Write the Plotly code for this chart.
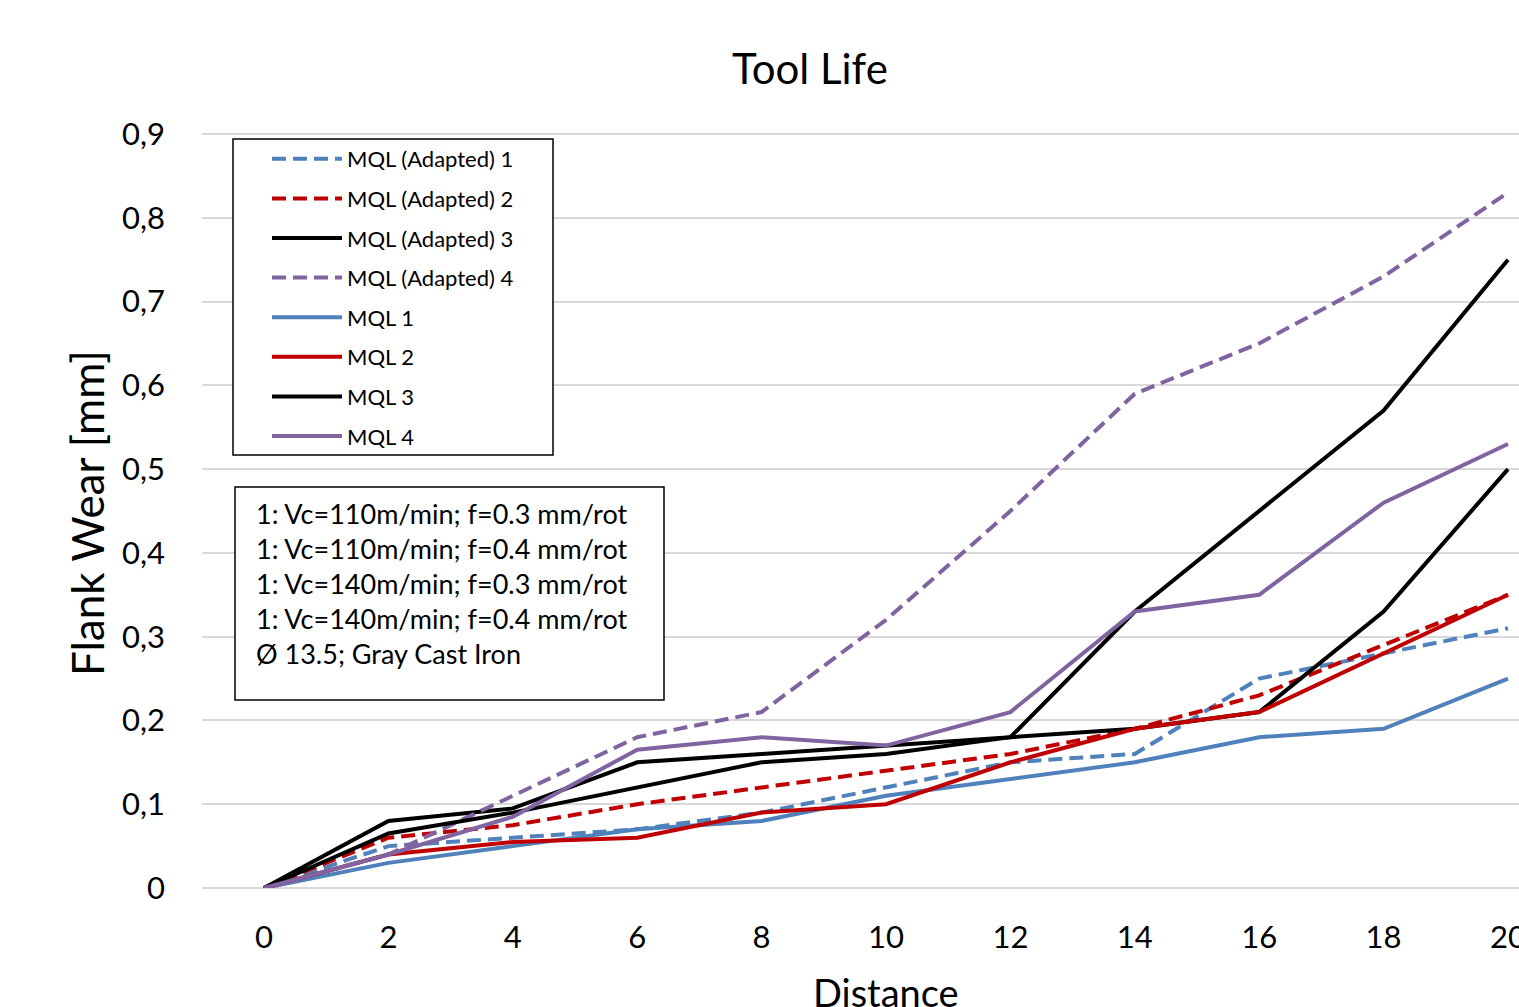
import plotly.graph_objects as go

# ---- data ----
distance = [0, 2, 4, 6, 8, 10, 12, 14, 16, 18, 20]

mql_adapted_1 = [0, 0.05, 0.06, 0.07, 0.09, 0.12, 0.15, 0.16, 0.25, 0.28, 0.31]
mql_adapted_2 = [0, 0.06, 0.075, 0.10, 0.12, 0.14, 0.16, 0.19, 0.23, 0.29, 0.35]
mql_adapted_3 = [0, 0.08, 0.095, 0.15, 0.16, 0.17, 0.18, 0.19, 0.21, 0.33, 0.50]
mql_adapted_4 = [0, 0.04, 0.11, 0.18, 0.21, 0.32, 0.45, 0.59, 0.65, 0.73, 0.83]
mql_1 = [0, 0.03, 0.05, 0.07, 0.08, 0.11, 0.13, 0.15, 0.18, 0.19, 0.25]
mql_2 = [0, 0.04, 0.055, 0.06, 0.09, 0.10, 0.15, 0.19, 0.21, 0.28, 0.35]
mql_3 = [0, 0.065, 0.09, 0.12, 0.15, 0.16, 0.18, 0.33, 0.45, 0.57, 0.75]
mql_4 = [0, 0.04, 0.085, 0.165, 0.18, 0.17, 0.21, 0.33, 0.35, 0.46, 0.53]

y_tick_vals = [0, 0.1, 0.2, 0.3, 0.4, 0.5, 0.6, 0.7, 0.8, 0.9]
y_tick_text = ["0", "0,1", "0,2", "0,3", "0,4", "0,5", "0,6", "0,7", "0,8", "0,9"]
x_tick_vals = distance

info_lines = [
    "1: Vc=110m/min; f=0.3 mm/rot",
    "1: Vc=110m/min; f=0.4 mm/rot",
    "1: Vc=140m/min; f=0.3 mm/rot",
    "1: Vc=140m/min; f=0.4 mm/rot",
    "Ø 13.5; Gray Cast Iron",
]

series = [
    ("MQL (Adapted) 1", mql_adapted_1, "#4F81BD", "14px,7px"),
    ("MQL (Adapted) 2", mql_adapted_2, "#C00000", "14px,7px"),
    ("MQL (Adapted) 3", mql_adapted_3, "#000000", "solid"),
    ("MQL (Adapted) 4", mql_adapted_4, "#8064A2", "14px,7px"),
    ("MQL 1", mql_1, "#4F81BD", "solid"),
    ("MQL 2", mql_2, "#C00000", "solid"),
    ("MQL 3", mql_3, "#000000", "solid"),
    ("MQL 4", mql_4, "#8064A2", "solid"),
]

FONT = "Lato"

# plot-area pixel geometry (0 at y=888 px, 0.9 at y=134 px)
W, H = 1519, 1007
L, R, T, B = 202, 0, 130, 119
PW = W - L - R
PH = H - T - B
Y_TOP = 0.9 * (888 - T) / (888 - 134)


def px(x):
    return (x - L) / PW


def py(y):
    return (H - B - y) / PH


fig = go.Figure()
for i, (name, vals, color, dash) in enumerate(series):
    fig.add_trace(go.Scatter(
        x=distance, y=vals, name=name, mode="lines",
        line=dict(color=color, width=4, dash=dash),
        legendgroup="g%d" % i,
    ))

fig.update_layout(
    width=W, height=H, autosize=False,
    margin=dict(l=L, r=R, t=T, b=B, pad=0, autoexpand=False),
    paper_bgcolor="white", plot_bgcolor="white",
    font=dict(family=FONT, color="black"),
    showlegend=True,
    legend=dict(
        x=px(267), y=py(138), xanchor="left", yanchor="top",
        borderwidth=0, bgcolor="rgba(255,255,255,0)",
        font=dict(family=FONT, size=22, color="black"),
        tracegroupgap=8, itemwidth=70, traceorder="grouped",
    ),
    xaxis=dict(
        range=[-0.997, 20.177], tickvals=x_tick_vals,
        ticktext=[str(v) for v in x_tick_vals],
        showgrid=False, zeroline=False, showline=False, automargin=False,
        tickfont=dict(family=FONT, size=31, color="black"),
        ticks="", ticklabelstandoff=28, ticklabeloverflow="allow",
    ),
    yaxis=dict(
        range=[0, Y_TOP], tickvals=y_tick_vals, ticktext=y_tick_text,
        showgrid=True, gridcolor="#d9d9d9", gridwidth=2,
        zeroline=True, zerolinecolor="#d9d9d9", zerolinewidth=2,
        showline=False, ticks="", automargin=False,
        tickfont=dict(family=FONT, size=31, color="black"),
        ticklabelstandoff=36,
    ),
)

annotations = [
    dict(text="Tool Life", x=px(810), y=py(68), xref="paper", yref="paper",
         xanchor="center", yanchor="middle", showarrow=False,
         font=dict(family=FONT, size=42, color="black")),
    dict(text="Distance", x=px(886), y=py(992), xref="paper", yref="paper",
         xanchor="center", yanchor="middle", showarrow=False,
         font=dict(family=FONT, size=38, color="black")),
    dict(text="Flank Wear [mm]", x=px(87), y=py(513), xref="paper", yref="paper",
         xanchor="center", yanchor="middle", showarrow=False, textangle=-90,
         font=dict(family=FONT, size=44, color="black")),
    dict(text="<br>".join(info_lines), x=px(254), y=py(495), xref="paper", yref="paper",
         xanchor="left", yanchor="top", align="left", showarrow=False,
         font=dict(family=FONT, size=27, color="black")),
]
fig.update_layout(annotations=annotations)

# legend frame and info frame (white filled boxes over the gridlines)
fig.add_shape(type="rect", xref="paper", yref="paper",
              x0=px(233), x1=px(553), y0=py(139), y1=py(455),
              line=dict(color="black", width=1.5), fillcolor="white", layer="above")
fig.add_shape(type="rect", xref="paper", yref="paper",
              x0=px(235), x1=px(664), y0=py(487), y1=py(700),
              line=dict(color="black", width=1.5), fillcolor="white", layer="above")

fig.write_html("out.html")
